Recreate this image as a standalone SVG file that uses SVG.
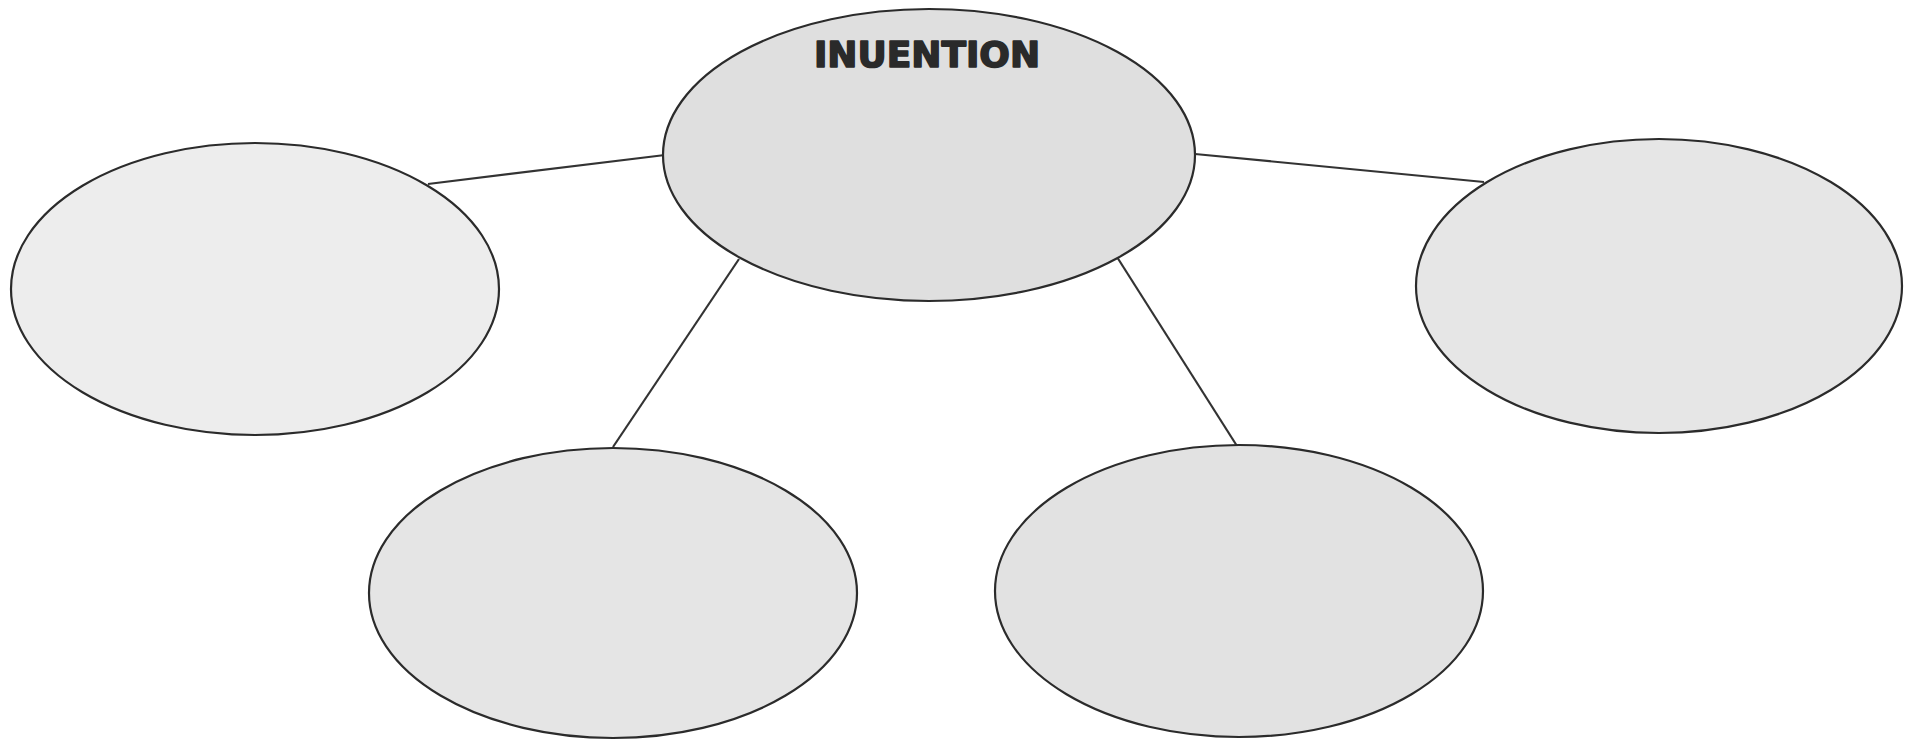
<svg xmlns="http://www.w3.org/2000/svg" width="1919" height="741" viewBox="0 0 1919 741">
<style>
.node ellipse{stroke:#2b2b2b;stroke-width:2.2}
#connectors line{stroke:#333333;stroke-width:2.2}
.title{font-family:"DejaVu Sans",sans-serif;font-weight:bold;font-size:36px;fill:#2a2a2a;stroke:#2a2a2a;stroke-width:1.6;stroke-linejoin:round}
</style>
<rect width="1919" height="741" fill="#ffffff"/>
<g id="connectors">
<line x1="665" y1="155" x2="428" y2="184"/>
<line x1="1195" y1="154" x2="1484" y2="182"/>
<line x1="739" y1="259" x2="613" y2="447"/>
<line x1="1117" y1="257" x2="1237" y2="446"/>
</g>
<g id="node-center" class="node">
<ellipse cx="929" cy="155" rx="266" ry="146" fill="#dfdfdf"/>
<text class="title" x="927" y="67" text-anchor="middle">INUENTION</text>
</g>
<g id="node-left" class="node">
<ellipse cx="255" cy="289" rx="244" ry="146" fill="#ededed"/>
</g>
<g id="node-right" class="node">
<ellipse cx="1659" cy="286" rx="243" ry="147" fill="#e6e6e6"/>
</g>
<g id="node-bottom-left" class="node">
<ellipse cx="613" cy="593" rx="244" ry="145" fill="#e5e5e5"/>
</g>
<g id="node-bottom-right" class="node">
<ellipse cx="1239" cy="591" rx="244" ry="146" fill="#e2e2e2"/>
</g>
</svg>
